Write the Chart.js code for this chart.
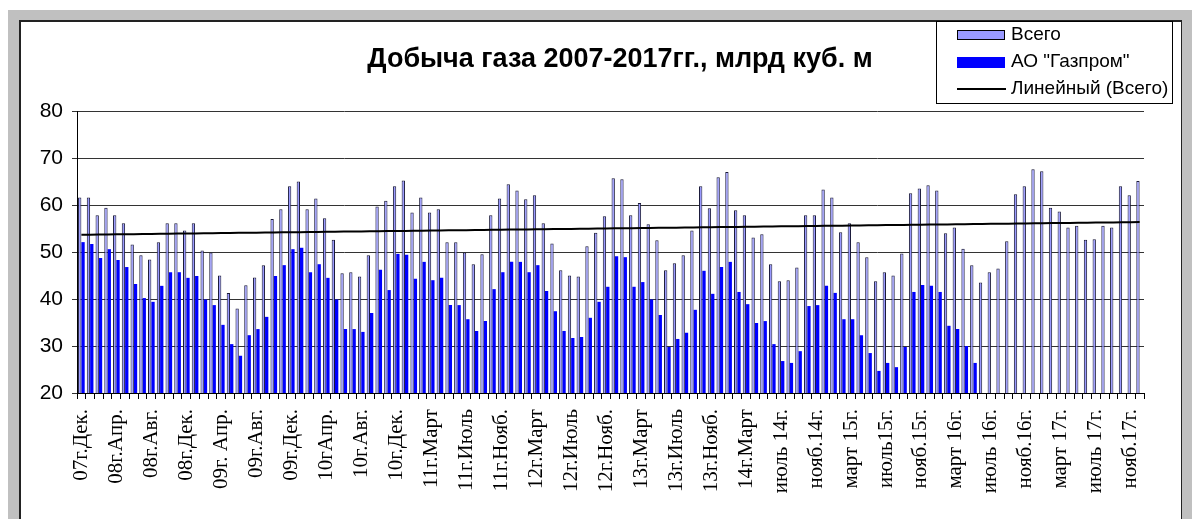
<!DOCTYPE html>
<html>
<head>
<meta charset="utf-8">
<script src="https://cdn.jsdelivr.net/npm/chart.js@4/dist/chart.umd.min.js"></script>
<style>
  body { margin: 0; background: #fff; }
  #frame { position: absolute; left: 8px; top: 10px; width: 1184px; height: 509px; background: #c0c0c0; }
  #panel { position: absolute; left: 19px; top: 20px; width: 1160px; height: 520px; background: #fff;
           border-left: 2px solid #222; border-top: 2px solid #222; border-right: 1px solid #222; }
  #wrap { position: absolute; left: 0; top: 0; width: 1192px; height: 519px; }
</style>
</head>
<body>
<div id="frame"></div>
<div id="panel"></div>
<div id="wrap"><canvas id="chart" width="1192" height="519"></canvas></div>
<script>
// подписи оси X (каждый 4-й месяц)
const tickLabels = ['07г.Дек.', '08г.Апр.', '08г.Авг.', '08г.Дек.', '09г. Апр.', '09г.Авг.', '09г.Дек.',
  '10гАпр.', '10г.Авг.', '10г.Дек.', '11г.Март', '11г.Июль', '11г.Нояб.', '12г.Март', '12г.Июль',
  '12г.Нояб.', '13г.Март', '13г.Июль', '13г.Нояб.', '14г.Март', 'июль 14г.', 'нояб.14г.', 'март 15г.',
  'июль15г.', 'нояб.15г.', 'март 16г.', 'июль 16г.', 'нояб.16г.', 'март 17г.', 'июль 17г.', 'нояб.17г.'];

// Всего, млрд куб. м
const vsego = [
  61.6, 61.6, 57.8, 59.4, 57.8, 56.1, 51.6, 49.3, 48.4, 52.1, 56.1, 56.1, 54.6, 56.1, 50.3, 49.9,
  45.0, 41.3, 38.0, 42.9, 44.6, 47.2, 57.0, 59.1, 64.0, 65.0, 59.1, 61.4, 57.2, 52.6, 45.5, 45.7,
  44.8, 49.3, 59.7, 60.9, 64.0, 65.2, 58.4, 61.6, 58.4, 59.1, 52.1, 52.1, 49.9, 47.4, 49.5, 57.8,
  61.4, 64.4, 63.1, 61.2, 62.1, 56.1, 51.8, 46.1, 45.0, 44.8, 51.2, 54.1, 57.6, 65.7, 65.5, 57.8,
  60.4, 55.9, 52.5, 46.1, 47.6, 49.3, 54.6, 64.0, 59.3, 65.9, 67.0, 58.9, 57.8, 53.1, 53.8, 47.4,
  43.8, 44.0, 46.7, 57.8, 57.8, 63.3, 61.6, 54.2, 56.1, 52.1, 48.9, 43.8, 45.7, 45.0, 49.7, 62.5,
  63.5, 64.2, 63.1, 54.0, 55.2, 50.7, 47.2, 43.5, 45.7, 46.5, 52.3, 62.3, 64.0, 67.6, 67.2, 59.4,
  58.6, 55.2, 55.6, 52.6, 52.7, 55.6, 55.2, 64.0, 62.1, 65.1];

// АО "Газпром", млрд куб. м
const gazprom = [
  52.1, 51.7, 48.7, 50.6, 48.3, 46.8, 43.2, 40.2, 39.4, 42.8, 45.7, 45.7, 44.5, 44.9, 39.9, 38.7,
  34.5, 30.4, 27.9, 32.3, 33.6, 36.2, 44.9, 47.2, 50.6, 50.9, 45.7, 47.4, 44.5, 39.9, 33.6, 33.6,
  33.0, 37.0, 46.2, 41.9, 49.6, 49.4, 44.3, 47.9, 44.0, 44.5, 38.7, 38.7, 35.7, 33.2, 35.3, 42.1,
  45.7, 47.9, 47.9, 45.7, 47.2, 41.7, 37.4, 33.2, 31.7, 31.9, 36.0, 39.4, 42.6, 49.1, 48.9, 42.6,
  43.6, 39.9, 36.6, 29.8, 31.5, 32.8, 37.7, 46.0, 41.1, 46.8, 47.9, 41.5, 38.9, 34.9, 35.3, 30.4,
  26.8, 26.4, 28.9, 38.5, 38.7, 42.8, 41.3, 35.7, 35.7, 32.3, 28.5, 24.7, 26.4, 25.5, 29.8, 41.5,
  43.0, 42.8, 41.5, 34.3, 33.6, 30.0, 26.4];

const categories = vsego.map((v, i) => (i % 4 === 0 ? tickLabels[i / 4] : ''));

// линейный тренд по "Всего"
const n = vsego.length;
let sx = 0, sy = 0, sxy = 0, sxx = 0;
vsego.forEach((v, i) => { sx += i; sy += v; sxy += i * v; sxx += i * i; });
const slope = (n * sxy - sx * sy) / (n * sxx - sx * sx);
const icpt = (sy - slope * sx) / n;
const trend = vsego.map((v, i) => icpt + slope * i);

const titleAndLegend = {
  id: 'titleAndLegend',
  afterDraw(chart) {
    const c = chart.ctx;
    c.save();
    c.fillStyle = '#000';
    c.font = 'bold 27px "Liberation Sans", Arial, sans-serif';
    c.textAlign = 'center';
    c.textBaseline = 'middle';
    c.fillText('Добыча газа 2007-2017гг., млрд куб. м', 620, 60);

    // рамка легенды
    c.fillStyle = '#fff';
    c.fillRect(936, 21, 236, 82);
    c.strokeStyle = '#000';
    c.lineWidth = 1;
    c.strokeRect(936.5, 21.5, 236, 82);

    c.fillStyle = '#9999ff';
    c.fillRect(957, 30, 48, 10);
    c.strokeRect(957.5, 30.5, 47, 9);
    c.fillStyle = '#0000ff';
    c.fillRect(957, 57, 48, 11);
    c.beginPath();
    c.moveTo(957, 89);
    c.lineTo(1006, 89);
    c.lineWidth = 2;
    c.stroke();

    c.fillStyle = '#000';
    c.font = '19px "Liberation Sans", Arial, sans-serif';
    c.textAlign = 'left';
    c.fillText('Всего', 1011, 35);
    c.fillText('АО "Газпром"', 1011, 62);
    c.fillText('Линейный (Всего)', 1011, 89);
    c.restore();
  }
};

new Chart(document.getElementById('chart'), {
  data: {
    labels: categories,
    datasets: [
      { type: 'line', label: 'Линейный (Всего)', data: trend, borderColor: '#000', borderWidth: 2,
        pointRadius: 0, fill: false, order: 0 },
      { type: 'bar', label: 'Всего', data: vsego, backgroundColor: '#9999ff', borderColor: '#1a1a3a',
        borderWidth: 1, barPercentage: 1, categoryPercentage: 0.76, order: 1 },
      { type: 'bar', label: 'АО "Газпром"', data: gazprom, backgroundColor: '#0000ff',
        borderWidth: 0, barPercentage: 1, categoryPercentage: 0.76, order: 1 }
    ]
  },
  options: {
    responsive: false,
    animation: false,
    layout: { padding: { left: 0, right: 48, top: 111, bottom: 0 } },
    plugins: { legend: { display: false }, title: { display: false }, tooltip: { enabled: false } },
    scales: {
      x: {
        offset: true,
        afterFit: s => { s.height = 126; },
        grid: { display: true, drawOnChartArea: false, offset: true, color: '#000', tickLength: 6 },
        border: { color: '#000', width: 1 },
        ticks: { autoSkip: false, maxRotation: 90, minRotation: 90, padding: 10, color: '#000',
                 font: { family: '"Liberation Serif", "Times New Roman", serif', size: 21 } }
      },
      y: {
        min: 20, max: 80,
        afterFit: s => { s.width = 77; },
        grid: { color: '#333', tickLength: 5 },
        border: { color: '#000', width: 1 },
        ticks: { stepSize: 10, padding: 9, color: '#000',
                 font: { family: '"Liberation Sans", Arial, sans-serif', size: 21 } }
      }
    }
  },
  plugins: [titleAndLegend]
});
</script>
</body>
</html>
